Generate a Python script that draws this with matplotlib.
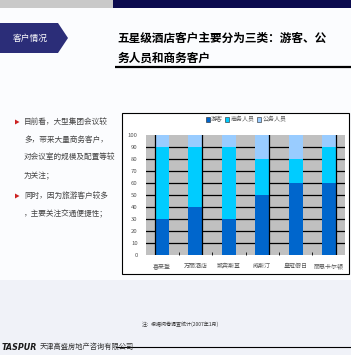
import matplotlib
matplotlib.use("Agg")
import matplotlib.pyplot as plt
from matplotlib.patches import Rectangle, Polygon
import numpy as np

plt.rcParams['font.family'] = ['Noto Sans CJK SC', 'DejaVu Sans']

# ---- data ----
categories = ["喜来登", "万丽酒店", "凯宾斯基", "威斯汀", "皇冠假日", "丽思卡尔顿"]
series_names = ["游客", "商务人员", "公务人员"]
tourists = [30, 40, 30, 50, 60, 60]
business = [60, 50, 60, 30, 20, 30]
official = [10, 10, 10, 20, 20, 10]
yticks = [0, 10, 20, 30, 40, 50, 60, 70, 80, 90, 100]

title_lines = ["五星级酒店客户主要分为三类：游客、公", "务人员和商务客户"]
tag_text = "客户情况"
bullet1 = ["目前看，大型集团会议较", "多，带来大量商务客户，", "对会议室的规模及配置等较", "为关注；"]
bullet2 = ["同时，因为旅游客户较多", "，主要关注交通便捷性；"]
note_text = "注：根据问卷调查统计(2007年1月)"
company = "天津高盛房地产咨询有限公司"

W, H = 351, 355
fig = plt.figure(figsize=(W / 100, H / 100), dpi=100)
fig.patch.set_facecolor('#F0F2F8')

bg = fig.add_axes([0, 0, 1, 1])
bg.set_xlim(0, W)
bg.set_ylim(H, 0)
bg.axis('off')

# white upper area
bg.add_patch(Rectangle((0, 7.5), W, 272, color='#FBFCFE', lw=0, zorder=0))
# top band
bg.add_patch(Rectangle((0, 0), 113, 7.5, color='#C9C9C9', lw=0))
bg.add_patch(Rectangle((113, 0), W - 113, 7.5, color='#0B0B4E', lw=0))
# tag pentagon
bg.add_patch(Polygon([(0, 23), (58, 23), (68, 38), (58, 53), (0, 53)],
                     closed=True, color='#2B2D78', lw=0))
bg.text(30, 38.5, tag_text, color='white', fontsize=6.3, ha='center', va='center')
# title
bg.text(117, 38, title_lines[0], fontsize=8.4, fontweight='bold', ha='left', va='center', color='black')
bg.text(117, 58, title_lines[1], fontsize=8.4, fontweight='bold', ha='left', va='center', color='black')
bg.plot([115, W], [66.5, 66.5], color='black', lw=1.6, solid_capstyle='butt')

# bullets
ys1 = [122, 140, 158, 176]
for i, t in enumerate(bullet1):
    bg.text(24, ys1[i], t, fontsize=5.5, ha='left', va='center', color='#444444')
ys2 = [196, 214]
for i, t in enumerate(bullet2):
    bg.text(24, ys2[i], t, fontsize=5.5, ha='left', va='center', color='#444444')
for yb in [122, 196]:
    bg.add_patch(Polygon([(15, yb - 2.5), (19.5, yb), (15, yb + 2.5)], closed=True,
                         color='#CC2222', lw=0))

# chart frame
bg.add_patch(Rectangle((122, 113), 227, 161, facecolor='white', edgecolor='black', lw=0.8))

# note and footer
bg.text(142, 324, note_text, fontsize=3.6, ha='left', va='center', color='#333333')
bg.plot([116, W], [347, 347], color='black', lw=0.8)
bg.text(2, 347, "TASPUR", fontsize=5.8, fontweight='bold', style='italic',
        ha='left', va='center', color='#1a1a1a', family=['DejaVu Sans'])
bg.text(40, 347, company, fontsize=5.2, ha='left', va='center', color='#333333')

# ---- chart ----
ax = fig.add_axes([146 / W, 1 - 255 / H, (345 - 146) / W, (255 - 135) / H])
ax.set_facecolor('#C0C0C0')
x = np.arange(len(categories))
bw = 0.42
c_dark, c_cyan, c_light = '#0066CC', '#00CCFF', '#99CCFF'
t = np.array(tourists)
b = np.array(business)
o = np.array(official)
ax.bar(x, t, bw, color=c_dark, label=series_names[0], zorder=3)
ax.bar(x, b, bw, bottom=t, color=c_cyan, label=series_names[1], zorder=3)
ax.bar(x, o, bw, bottom=t + b, color=c_light, label=series_names[2], zorder=3)

for yv in yticks[1:-1]:
    ax.axhline(yv, color='black', lw=0.9, zorder=1)
for xv in [0 - bw / 2, 1 + bw / 2, 3 + bw / 2, 5 + bw / 2]:
    ax.axvline(xv, color='black', lw=0.9, zorder=4)

ax.set_xlim(-0.48, 5.48)
ax.set_ylim(0, 100)
ax.set_yticks(yticks)
ax.set_yticklabels([str(v) for v in yticks], fontsize=4.3, color='#555555')
ax.set_xticks(x)
ax.set_xticklabels(categories, fontsize=4.3, color='#555555')
ax.tick_params(axis='x', length=0, pad=6)
ax.tick_params(axis='y', length=0, pad=6)
ax.set_xticks(x[:-1] + 0.5, minor=True)
ax.tick_params(axis='x', which='minor', length=2, direction='in', color='black')
for s in ax.spines.values():
    s.set_visible(False)

handles, labels = ax.get_legend_handles_labels()
leg = fig.legend(handles, labels, loc='center', bbox_to_anchor=(246 / W, 1 - 119.5 / H),
                 ncol=3, fontsize=4.3, frameon=False, handlelength=0.7, handleheight=0.9,
                 columnspacing=0.4, handletextpad=0.2, borderpad=0)
for tx in leg.get_texts():
    tx.set_color('#555555')
for p in leg.legend_handles:
    p.set_edgecolor('#222222')
    p.set_linewidth(0.4)

fig.savefig('out.png', dpi=100, facecolor=fig.get_facecolor())
